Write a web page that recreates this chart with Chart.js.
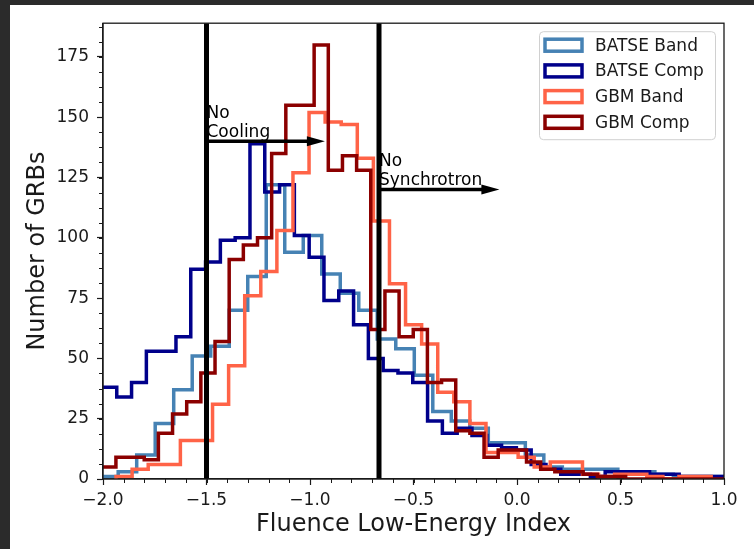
<!DOCTYPE html>
<html>
<head>
<meta charset="utf-8">
<script src="https://cdn.jsdelivr.net/npm/chart.js@4.4.1/dist/chart.umd.min.js"></script>
<style>
  html, body { margin: 0; padding: 0; background: #2b2b2b; }
  body { width: 754px; height: 549px; overflow: hidden; position: relative; }
  #wrap { position: absolute; left: 10px; top: 5px; width: 744px; height: 544px; background: #fff; }
</style>
</head>
<body>
<div id="wrap"><canvas id="grbChart" width="744" height="544"></canvas></div>
<script>
// ---- values ----
const seriesLabels = ['BATSE Band', 'BATSE Comp', 'GBM Band', 'GBM Comp'];
const seriesColors = ['#4682b4', '#00008b', '#ff6347', '#8b0000'];

// histogram binning per series: first edge and bin width (low-energy index)
const binStart = [-2.016, -2.005, -1.937, -2.006];
const binWidth = [0.0894, 0.0715, 0.0777, 0.0684];

// counts per bin
const batseBand = [1, 3, 10, 23, 37, 51, 55, 70, 84, 122, 94, 101, 85, 77, 70, 58, 54, 43, 28, 24,
    21, 15, 15, 10, 5, 4, 4, 4, 3, 3, 2, 1, 1, 1];
const batseComp = [38, 34, 40, 53, 53, 59, 87, 90, 99, 100, 139, 119, 122, 101, 92, 74, 78, 64, 50, 45,
    44, 40, 24, 19, 21, 18, 14, 13, 12, 6, 4, 2, 2, 1, 3, 3, 3, 2, 2, 1, 1, 1];
const gbmBand = [1, 4, 6, 6, 16, 16, 31, 47, 76, 86, 103, 127, 152, 148, 147, 133, 107, 81, 64, 56,
    36, 32, 23, 11, 11, 9, 5, 7, 7, 2, 1, 2, 2, 1, 0, 1, 1];
const gbmComp = [5, 9, 9, 8, 19, 27, 32, 44, 57, 91, 97, 100, 135, 155, 155, 180, 128, 134, 128, 62,
    78, 59, 62, 40, 41, 20, 19, 9, 12, 12, 7, 4, 3, 3, 2, 1, 1, 0, 0, 0, 0, 0, 0, 0];

const xTicks = [-2.0, -1.5, -1.0, -0.5, 0.0, 0.5, 1.0];
const yTicks = [0, 25, 50, 75, 100, 125, 150, 175];
const xRange = [-2, 1];
const yRange = [0, 189];
const xMinorStep = 0.1;
const yMinorStep = 6.25;

// theory limits: vertical line, arrow height, arrow tip, label
const limitX = [-1.5, -2 / 3];
const limitArrowY = [140, 120];
const limitArrowTip = [-0.928, -0.085];
const limitText = [['No', 'Cooling'], ['No', 'Synchrotron']];

const FONT = 'DejaVu Sans';
const INK = '#1a1a1a';

function stepPoints(start, width, counts) {
    const pts = [{x: start, y: 0}];
    counts.forEach((c, i) => pts.push({x: start + i * width, y: c}));
    pts.push({x: start + counts.length * width, y: 0});
    return pts;
}

function fmtIndex(v) {
    return v < 0 ? '\u2212' + Math.abs(v).toFixed(1) : v.toFixed(1);
}

const counts = [batseBand, batseComp, gbmBand, gbmComp];
const datasets = counts.map((c, i) => ({
    label: seriesLabels[i],
    data: stepPoints(binStart[i], binWidth[i], c),
    borderColor: seriesColors[i],
    backgroundColor: '#ffffff',
    borderWidth: 3.5,
    stepped: true,
    pointRadius: 0,
    fill: false,
    order: 3 - i
}));

// lines, arrows, labels, minor ticks, frame and legend drawn on top
const decorations = {
    id: 'decorations',
    afterDatasetsDraw(chart) {
        const {ctx, chartArea: a, scales: {x, y}} = chart;
        ctx.save();

        // limit lines
        ctx.strokeStyle = '#000';
        ctx.lineWidth = 5;
        limitX.forEach(v => {
            const px = x.getPixelForValue(v);
            ctx.beginPath();
            ctx.moveTo(px, a.top);
            ctx.lineTo(px, a.bottom);
            ctx.stroke();
        });

        // arrows + text
        ctx.fillStyle = '#000';
        ctx.font = '17px "' + FONT + '"';
        ctx.textAlign = 'left';
        ctx.textBaseline = 'alphabetic';
        limitX.forEach((v, i) => {
            const x0 = x.getPixelForValue(v);
            const x1 = x.getPixelForValue(limitArrowTip[i]);
            const py = y.getPixelForValue(limitArrowY[i]);
            const headLen = 18, headHalf = 5;
            ctx.lineWidth = 3.5;
            ctx.beginPath();
            ctx.moveTo(x0, py);
            ctx.lineTo(x1 - headLen + 1, py);
            ctx.stroke();
            ctx.beginPath();
            ctx.moveTo(x1, py);
            ctx.lineTo(x1 - headLen, py - headHalf);
            ctx.lineTo(x1 - headLen, py + headHalf);
            ctx.closePath();
            ctx.fill();

            const base = y.getPixelForValue(limitArrowY[i] + 2);
            const lines = limitText[i];
            lines.forEach((t, j) => {
                ctx.fillText(t, x0, base - (lines.length - 1 - j) * 19);
            });
        });
        ctx.restore();
    },
    afterDraw(chart) {
        const {ctx, chartArea: a, scales: {x, y}} = chart;
        ctx.save();

        // minor ticks
        ctx.strokeStyle = INK;
        ctx.lineWidth = 1;
        for (let v = xRange[0]; v <= xRange[1] + 1e-9; v += xMinorStep) {
            const px = Math.round(x.getPixelForValue(v)) + 0.5;
            ctx.beginPath();
            ctx.moveTo(px, a.bottom);
            ctx.lineTo(px, a.bottom + 4);
            ctx.stroke();
        }
        for (let v = yRange[0]; v <= yRange[1]; v += yMinorStep) {
            const py = Math.round(y.getPixelForValue(v)) + 0.5;
            ctx.beginPath();
            ctx.moveTo(a.left, py);
            ctx.lineTo(a.left - 4, py);
            ctx.stroke();
        }

        // full axes frame
        ctx.lineWidth = 1.3;
        ctx.strokeRect(a.left, a.top, a.right - a.left, a.bottom - a.top);

        // legend box in the upper right of the axes
        const boxW = 176, boxH = 108;
        const bx = a.right - 9 - boxW, by = a.top + 8;
        ctx.fillStyle = 'rgba(255,255,255,0.85)';
        ctx.strokeStyle = '#d0d0d0';
        ctx.lineWidth = 1;
        ctx.beginPath();
        ctx.roundRect(bx + 0.5, by + 0.5, boxW, boxH, 4);
        ctx.fill();
        ctx.stroke();

        ctx.font = '17px "' + FONT + '"';
        ctx.textAlign = 'left';
        ctx.textBaseline = 'middle';
        chart.data.datasets.forEach((ds, i) => {
            const cy = by + 14 + i * 25.7;
            ctx.fillStyle = '#fff';
            ctx.strokeStyle = ds.borderColor;
            ctx.lineWidth = 3.5;
            ctx.fillRect(bx + 6, cy - 6, 37, 12);
            ctx.strokeRect(bx + 6, cy - 6, 37, 12);
            ctx.fillStyle = INK;
            ctx.fillText(ds.label, bx + 56, cy + 1);
        });
        ctx.restore();
    }
};

const tickFont = {family: FONT, size: 17};
const titleFont = {family: FONT, size: 24};

new Chart(document.getElementById('grbChart'), {
    type: 'line',
    data: {datasets},
    plugins: [decorations],
    options: {
        responsive: false,
        animation: false,
        layout: {padding: {left: 0, right: 30, top: 12, bottom: 0}},
        plugins: {
            legend: {display: false},
            tooltip: {enabled: false}
        },
        elements: {line: {tension: 0}},
        scales: {
            x: {
                type: 'linear',
                min: xRange[0],
                max: xRange[1],
                afterBuildTicks: scale => { scale.ticks = xTicks.map(v => ({value: v})); },
                afterFit: scale => { scale.height = 70; },
                ticks: {
                    font: tickFont,
                    color: INK,
                    padding: 5,
                    autoSkip: false,
                    maxRotation: 0,
                    callback: v => fmtIndex(v)
                },
                grid: {drawOnChartArea: false, tickLength: 6, tickColor: INK, tickWidth: 1.2},
                border: {color: INK, width: 1.3},
                title: {
                    display: true,
                    text: 'Fluence Low-Energy Index',
                    font: titleFont,
                    color: INK,
                    padding: {top: 0, bottom: 10}
                }
            },
            y: {
                min: yRange[0],
                max: yRange[1],
                afterBuildTicks: scale => { scale.ticks = yTicks.map(v => ({value: v})); },
                afterFit: scale => { scale.width = 93; },
                ticks: {
                    font: tickFont,
                    color: INK,
                    padding: 8,
                    callback: v => String(v)
                },
                grid: {drawOnChartArea: false, tickLength: 6, tickColor: INK, tickWidth: 1.2},
                border: {color: INK, width: 1.3},
                title: {
                    display: true,
                    text: 'Number of GRBs',
                    font: titleFont,
                    color: INK,
                    padding: {top: 13, bottom: 0}
                }
            }
        }
    }
});
</script>
</body>
</html>
